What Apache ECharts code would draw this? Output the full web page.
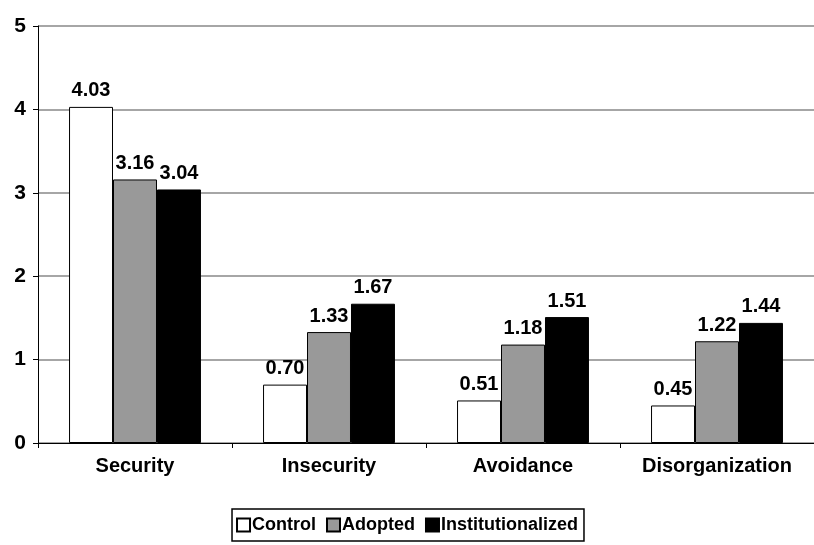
<!DOCTYPE html>
<html>
<head>
<meta charset="utf-8">
<script src="https://cdn.jsdelivr.net/npm/echarts@6/dist/echarts.min.js"></script>
<style>
  html, body { margin: 0; padding: 0; background: #fff; }
  #chart { width: 814px; height: 545px; }
</style>
</head>
<body>
<div id="chart"></div>
<script>
// Attachment scores by group
const categories = ['Security', 'Insecurity', 'Avoidance', 'Disorganization'];
const control = [4.03, 0.70, 0.51, 0.45];
const adopted = [3.16, 1.33, 1.18, 1.22];
const institutionalized = [3.04, 1.67, 1.51, 1.44];
const seriesNames = ['Control', 'Adopted', 'Institutionalized'];
const yTicks = [0, 1, 2, 3, 4, 5];

const FONT = '"Liberation Sans", Arial, sans-serif';
const colors = ['#ffffff', '#999999', '#000000'];

function barSeries(name, data, color) {
  return {
    name: name,
    type: 'bar',
    data: data,
    barGap: '0%',
    barCategoryGap: '32%',
    itemStyle: { color: color, borderColor: '#000', borderWidth: 1 },
    label: {
      show: true,
      position: 'top',
      distance: 6,
      formatter: p => p.value.toFixed(2),
      fontFamily: FONT,
      fontWeight: 'bold',
      fontSize: 20,
      color: '#000'
    }
  };
}

const chart = echarts.init(document.getElementById('chart'), null, { renderer: 'canvas' });
chart.setOption({
  animation: false,
  backgroundColor: '#fff',
  grid: { left: 38, right: -4, top: 26, bottom: 102, containLabel: false },
  legend: {
    data: seriesNames,
    bottom: 4,
    left: 'center',
    icon: 'rect',
    itemWidth: 13,
    itemHeight: 13,
    itemGap: 10,
    padding: [7, 6, 7, 4],
    borderColor: '#000',
    borderWidth: 1.5,
    textStyle: { fontFamily: FONT, fontWeight: 'bold', fontSize: 18, color: '#000', padding: [0, 0, 0, -3] }
  },
  xAxis: {
    type: 'category',
    data: categories,
    axisLine: { lineStyle: { color: '#000', width: 1 } },
    axisTick: { show: true, interval: 0, alignWithLabel: false, length: 5, inside: false, lineStyle: { color: '#000' } },
    axisLabel: { interval: 0, hideOverlap: false, margin: 13, fontFamily: FONT, fontWeight: 'bold', fontSize: 20, color: '#000' },
    splitLine: { show: false }
  },
  yAxis: {
    type: 'value',
    min: yTicks[0],
    max: yTicks[yTicks.length - 1],
    interval: 1,
    axisLine: { show: true, lineStyle: { color: '#000', width: 1 } },
    axisTick: { show: true, length: 5, lineStyle: { color: '#000' } },
    axisLabel: { margin: 12, fontFamily: FONT, fontWeight: 'bold', fontSize: 21, color: '#000' },
    splitLine: { show: true, lineStyle: { color: '#888', width: 1.5 } }
  },
  series: [
    barSeries(seriesNames[0], control, colors[0]),
    barSeries(seriesNames[1], adopted, colors[1]),
    barSeries(seriesNames[2], institutionalized, colors[2])
  ]
});
</script>
</body>
</html>
